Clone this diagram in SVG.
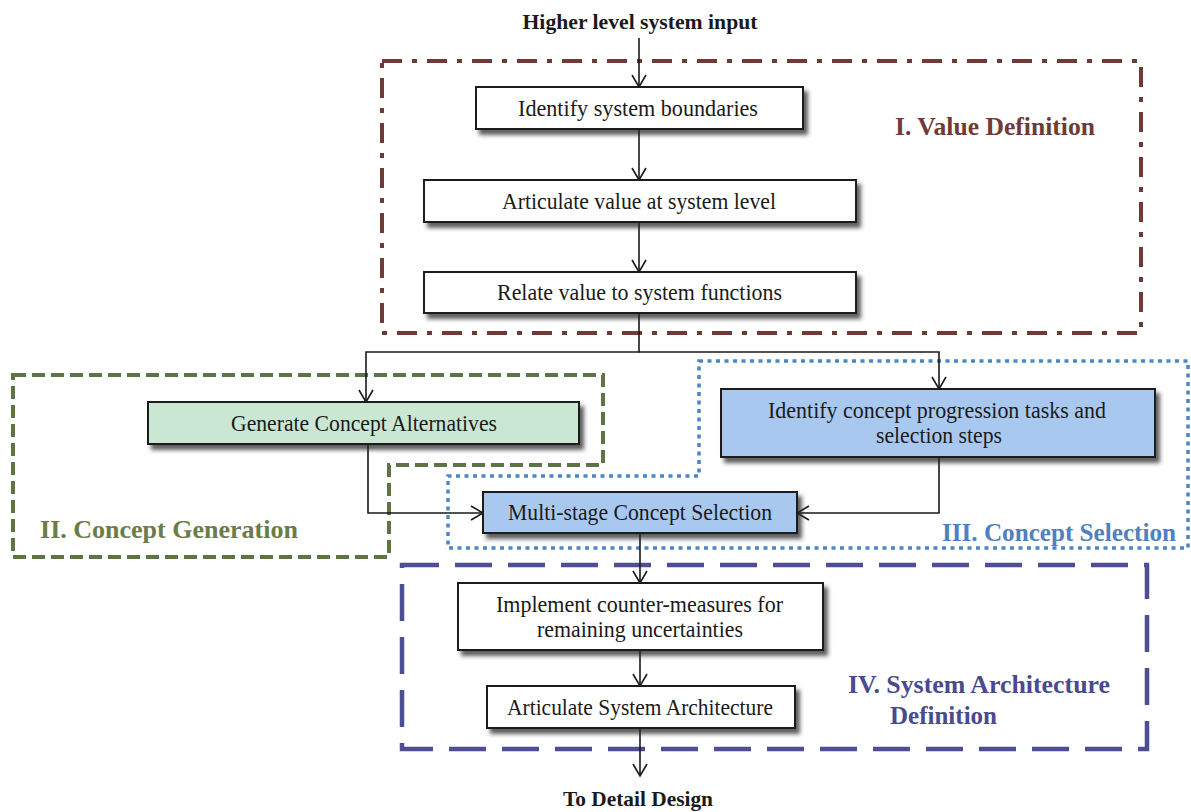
<svg xmlns="http://www.w3.org/2000/svg" width="1191" height="812" viewBox="0 0 1191 812">
  <style>
    .box { stroke: #1a1a1a; stroke-width: 2; filter: url(#shadow); }
    .plain { fill: #ffffff; }
    .green { fill: #c9e7d3; }
    .blue { fill: #a9c8f0; }
    .lbl { font-family: "Liberation Serif", "Times New Roman", serif; font-size: 23px; fill: #1a1a1a; text-anchor: middle; }
    .io { font-family: "Liberation Serif", "Times New Roman", serif; font-size: 22px; font-weight: bold; fill: #1a1a1a; text-anchor: middle; }
    .phase { font-family: "Liberation Serif", "Times New Roman", serif; font-size: 25px; font-weight: bold; }
    .conn { fill: none; stroke: #1a1a1a; stroke-width: 1.6; }
  </style>
  <defs>
    <filter id="shadow" x="-5%" y="-20%" width="115%" height="150%">
      <feDropShadow dx="4" dy="5" stdDeviation="2" flood-color="#2a2a2a" flood-opacity="0.75"/>
    </filter>
    <marker id="arr" viewBox="0 0 12 14" refX="12" refY="7" markerWidth="12" markerHeight="14" orient="auto" markerUnits="userSpaceOnUse" overflow="visible">
      <path d="M0,0 L12,7 L0,14" fill="none" stroke="#1a1a1a" stroke-width="1.6"/>
    </marker>
  </defs>

  <rect width="1191" height="812" fill="#ffffff"/>

  <!-- phase outlines -->
  <g id="phase-value">
    <rect x="382" y="61" width="759" height="272" fill="none" stroke="#6e3b37" stroke-width="4" stroke-dasharray="20 10 5 10"/>
    <text class="phase" x="895" y="135" fill="#6e3b37" textLength="200" lengthAdjust="spacingAndGlyphs">I. Value Definition</text>
  </g>
  <g id="phase-generation">
    <path d="M13,375 H603 V465 H389 V557 H13 Z" fill="none" stroke="#5f7444" stroke-width="4" stroke-dasharray="13 6"/>
    <text class="phase" x="40" y="538" fill="#6a7d48" textLength="258" lengthAdjust="spacingAndGlyphs">II. Concept Generation</text>
  </g>
  <g id="phase-selection">
    <path d="M699,361 H1188 V548 H448 V476 H699 Z" fill="none" stroke="#4a86c8" stroke-width="3.5" stroke-dasharray="4 4.5"/>
    <text class="phase" x="942" y="541" fill="#4f80c0" textLength="234" lengthAdjust="spacingAndGlyphs">III. Concept Selection</text>
  </g>
  <g id="phase-architecture">
    <rect x="402" y="565" width="745" height="184" fill="none" stroke="#4e4e94" stroke-width="4.5" stroke-dasharray="37 16"/>
    <text class="phase" x="848" y="693" fill="#4a4a8e" textLength="262" lengthAdjust="spacingAndGlyphs">IV. System Architecture</text>
    <text class="phase" x="890" y="724" fill="#4a4a8e" textLength="107" lengthAdjust="spacingAndGlyphs">Definition</text>
  </g>

  <!-- connectors -->
  <g id="connectors">
    <line class="conn" x1="639" y1="38" x2="639" y2="87" marker-end="url(#arr)"/>
    <line class="conn" x1="639" y1="129" x2="639" y2="180" marker-end="url(#arr)"/>
    <line class="conn" x1="639" y1="222" x2="639" y2="272" marker-end="url(#arr)"/>
    <path class="conn" d="M639,313 V352 H366 V402" marker-end="url(#arr)"/>
    <path class="conn" d="M639,352 H939 V389" marker-end="url(#arr)"/>
    <path class="conn" d="M368,444 V513 H483" marker-end="url(#arr)"/>
    <path class="conn" d="M939,457 V513 H797" marker-end="url(#arr)"/>
    <line class="conn" x1="640" y1="533" x2="640" y2="583" marker-end="url(#arr)"/>
    <line class="conn" x1="640" y1="650" x2="640" y2="686" marker-end="url(#arr)"/>
    <line class="conn" x1="640" y1="728" x2="640" y2="776" marker-end="url(#arr)"/>
  </g>

  <!-- terminals -->
  <g id="input">
    <text class="io" x="640" y="29" textLength="235" lengthAdjust="spacingAndGlyphs">Higher level system input</text>
  </g>
  <g id="output">
    <text class="io" x="638" y="806" textLength="150" lengthAdjust="spacingAndGlyphs">To Detail Design</text>
  </g>

  <!-- process steps -->
  <g id="identify-boundaries">
    <rect class="box plain" x="476" y="87" width="327" height="42"/>
    <text class="lbl" x="638" y="116" textLength="240" lengthAdjust="spacingAndGlyphs">Identify system boundaries</text>
  </g>
  <g id="articulate-value">
    <rect class="box plain" x="424" y="180" width="432" height="42"/>
    <text class="lbl" x="639" y="209" textLength="274" lengthAdjust="spacingAndGlyphs">Articulate value at system level</text>
  </g>
  <g id="relate-value">
    <rect class="box plain" x="424" y="272" width="432" height="41"/>
    <text class="lbl" x="639.5" y="300" textLength="285" lengthAdjust="spacingAndGlyphs">Relate value to system functions</text>
  </g>
  <g id="generate-alternatives">
    <rect class="box green" x="148" y="402" width="431" height="42"/>
    <text class="lbl" x="364" y="431" textLength="266" lengthAdjust="spacingAndGlyphs">Generate Concept Alternatives</text>
  </g>
  <g id="identify-tasks">
    <rect class="box blue" x="721" y="389" width="434" height="68"/>
    <text class="lbl" x="937" y="418" textLength="338" lengthAdjust="spacingAndGlyphs">Identify concept progression tasks and</text>
    <text class="lbl" x="939" y="443" textLength="126" lengthAdjust="spacingAndGlyphs">selection steps</text>
  </g>
  <g id="multi-stage-selection">
    <rect class="box blue" x="483" y="492" width="314" height="41"/>
    <text class="lbl" x="640" y="520" textLength="264" lengthAdjust="spacingAndGlyphs">Multi-stage Concept Selection</text>
  </g>
  <g id="counter-measures">
    <rect class="box plain" x="458" y="583" width="365" height="67"/>
    <text class="lbl" x="639.5" y="612" textLength="287" lengthAdjust="spacingAndGlyphs">Implement counter-measures for</text>
    <text class="lbl" x="640" y="637" textLength="206" lengthAdjust="spacingAndGlyphs">remaining uncertainties</text>
  </g>
  <g id="articulate-architecture">
    <rect class="box plain" x="487" y="686" width="308" height="42"/>
    <text class="lbl" x="640" y="715" textLength="266" lengthAdjust="spacingAndGlyphs">Articulate System Architecture</text>
  </g>
</svg>
